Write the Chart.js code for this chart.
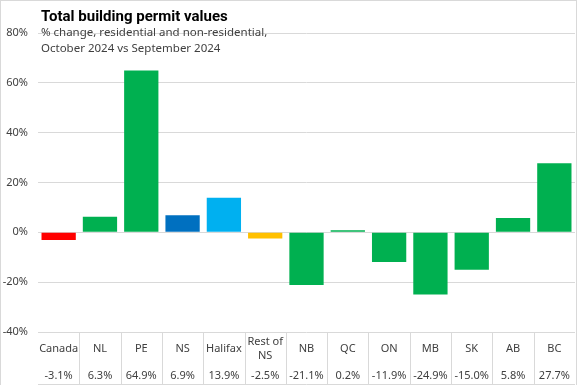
<!DOCTYPE html>
<html>
<head>
<meta charset="utf-8">
<script src="https://cdn.jsdelivr.net/npm/chart.js@4"></script>
<style>
  html, body { margin: 0; padding: 0; background: #fff; }
  #wrap { position: relative; width: 577px; height: 385px; box-sizing: border-box; border: 1px solid #d9d9d9; border-bottom: none; }
  canvas { display: block; }
</style>
</head>
<body>
<div id="wrap"><canvas id="chart" width="575" height="384"></canvas></div>
<script>
const categories = ['Canada', 'NL', 'PE', 'NS', 'Halifax', ['Rest of', 'NS'], 'NB', 'QC', 'ON', 'MB', 'SK', 'AB', 'BC'];
const changes = [-3.1, 6.3, 64.9, 6.9, 13.9, -2.5, -21.1, 0.2, -11.9, -24.9, -15.0, 5.8, 27.7];
const barColors = ['#FF0000', '#00B050', '#00B050', '#0070C0', '#00B0F0', '#FFC000',
                   '#00B050', '#00B050', '#00B050', '#00B050', '#00B050', '#00B050', '#00B050'];
const titleText = 'Total building permit values';
const subtitleLines = ['% change, residential and non-residential,', 'October 2024 vs September 2024'];

const FONT = "'Noto Sans', sans-serif";
const TEXT = '#404040';

// title and data table are drawn by hand, Excel style
const tablePlugin = {
    id: 'tablePlugin',
    afterDraw(chart) {
        const ctx = chart.ctx;
        const x = chart.scales.x;
        const area = chart.chartArea;
        const bottom = chart.height - 1;
        const step = x.getPixelForValue(1) - x.getPixelForValue(0);

        ctx.save();
        ctx.strokeStyle = '#d9d9d9';
        ctx.lineWidth = 1;
        ctx.beginPath();
        for (let i = 1; i < categories.length; i++) {
            const px = Math.round(x.getPixelForValue(i) - step / 2) + 0.5;
            ctx.moveTo(px, area.bottom);
            ctx.lineTo(px, bottom);
        }
        ctx.moveTo(area.left, bottom + 0.5);
        ctx.lineTo(area.right, bottom + 0.5);
        ctx.stroke();

        ctx.fillStyle = TEXT;
        ctx.font = '11px ' + FONT;
        ctx.textAlign = 'center';
        ctx.textBaseline = 'middle';
        categories.forEach((c, i) => {
            const cx = x.getPixelForValue(i);
            if (Array.isArray(c)) {
                ctx.fillText(c[0], cx, area.bottom + 10);
                ctx.fillText(c[1], cx, area.bottom + 24);
            } else {
                ctx.fillText(c, cx, area.bottom + 17);
            }
            ctx.fillText(changes[i].toFixed(1) + '%', cx, area.bottom + 44);
        });

        ctx.textAlign = 'left';
        ctx.textBaseline = 'alphabetic';
        ctx.fillStyle = '#000';
        ctx.font = "bold 15px Roboto, sans-serif";
        ctx.fillText(titleText, 40, 20);
        ctx.fillStyle = TEXT;
        ctx.font = '11.5px ' + FONT;
        ctx.fillText(subtitleLines[0], 40, 35);
        ctx.fillText(subtitleLines[1], 40, 51);
        ctx.restore();
    }
};

new Chart(document.getElementById('chart'), {
    type: 'bar',
    data: {
        labels: categories,
        datasets: [{
            data: changes,
            backgroundColor: barColors,
            barPercentage: 0.83,
            categoryPercentage: 1.0,
            minBarLength: 2
        }]
    },
    options: {
        responsive: false,
        animation: false,
        layout: { padding: { top: 32, right: 1, bottom: 53, left: 0 } },
        plugins: {
            legend: { display: false },
            tooltip: { enabled: false }
        },
        scales: {
            x: { display: false },
            y: {
                min: -40,
                max: 80,
                afterFit: (scale) => { scale.width = 37; },
                ticks: {
                    stepSize: 20,
                    padding: 10,
                    color: TEXT,
                    font: { family: FONT, size: 11 },
                    callback: (value) => value + '%'
                },
                grid: { color: '#d9d9d9', drawTicks: false },
                border: { display: false }
            }
        }
    },
    plugins: [tablePlugin]
});
</script>
</body>
</html>
